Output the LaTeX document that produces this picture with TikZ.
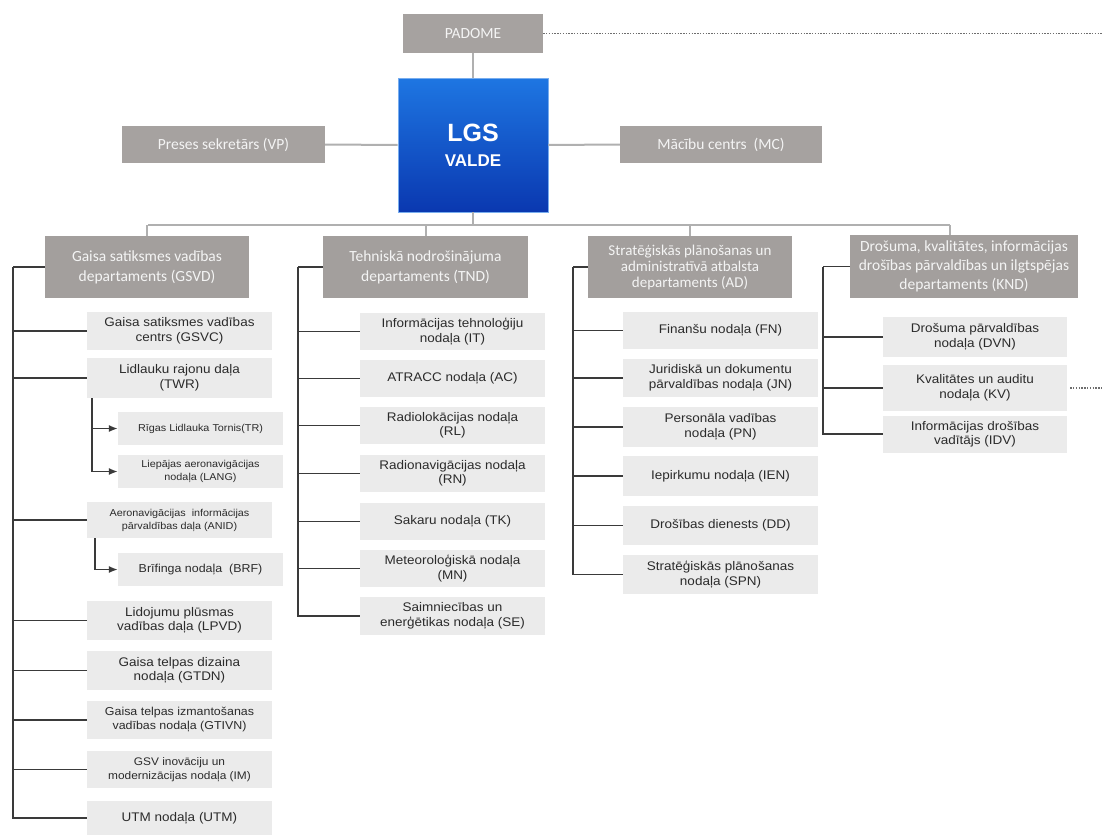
\documentclass[tikz,border=0pt]{standalone}
\usepackage{fontspec}
\setmainfont{Liberation Sans}
\newfontfamily\subf[FakeStretch=1.08]{Liberation Sans}
\newfontfamily\carl{Carlito}
\usetikzlibrary{arrows.meta}
\definecolor{topgray}{HTML}{A6A2A0}
\definecolor{deptgray}{HTML}{A39F9D}
\definecolor{subgray}{HTML}{EBEBEB}
\definecolor{treecol}{HTML}{3A3A3A}
\definecolor{busgray}{HTML}{B0B0B0}
\definecolor{dotcol}{HTML}{6E6E6E}
\definecolor{subtext}{HTML}{2B2B2B}
\definecolor{toptext}{HTML}{F4F4F4}
\definecolor{bluetop}{RGB}{30,118,226}
\definecolor{bluebot}{RGB}{10,56,176}
\tikzset{
  topbox/.style={fill=topgray, text=toptext, inner sep=0pt, align=center,
    font=\carl\fontsize{15.5}{18}\selectfont},
  deptbox/.style={fill=deptgray, text=toptext, inner sep=0pt, align=center,
    font=\carl\fontsize{15.5}{20}\selectfont},
  subbox/.style={fill=subgray, text=subtext, inner sep=0pt, align=center,
    font=\subf\fontsize{12.5}{14.5}\selectfont},
  smallsub/.style={subbox, font=\subf\fontsize{10}{13}\selectfont},
  tree/.style={draw=treecol, line width=1.4pt},
  treearrow/.style={tree, -{Latex[length=9pt,width=7pt]}},
  busline/.style={draw=busgray, line width=2pt},
  dotline/.style={draw=dotcol, line width=1.4pt, dash pattern=on 1.4pt off 1.4pt}
}
\begin{document}
\begin{tikzpicture}[x=1pt,y=-1pt]
\fill[white] (0,0) rectangle (1103,835);
\useasboundingbox (0,0) rectangle (1103,835);

% top level
\node[topbox, minimum width=140, minimum height=39] (padome) at (473,33.5) {PADOME};
\node[top color=bluetop, bottom color=bluebot, draw=bluetop!60!white, line width=0.8pt,
  minimum width=150, minimum height=134, inner sep=0pt,
  text=white, align=center, font=\bfseries\fontsize{17}{25}\selectfont] (valde) at (473,145)
  {{\fontsize{25}{25}\selectfont LGS}\\VALDE};
\node[topbox, minimum width=203, minimum height=37] (vp) at (223.5,144.5) {Preses sekretārs (VP)};
\node[topbox, minimum width=202, minimum height=37] (mc) at (721,144.5) {Mācību centrs \ (MC)};

\coordinate (dotend) at (1103,33.5);
\draw[dotline] (padome.east) -- (dotend);
\draw[busline] (padome.south) -- (valde.north);
\draw[busline] (vp.east) -- (valde.west);
\draw[busline] (valde.east) -- (mc.west);

% departments
\node[deptbox, minimum width=204, minimum height=62] (gsvd) at (147,267) {Gaisa satiksmes vadības\\departaments (GSVD)};
\node[deptbox, minimum width=205, minimum height=62] (tnd) at (425.5,267) {Tehniskā nodrošinājuma\\departaments (TND)};
\node[deptbox, minimum width=204, minimum height=62, font=\carl\fontsize{15}{16}\selectfont] (ad) at (690,267)
  {Stratēģiskās plānošanas un\\administratīvā atbalsta\\departaments (AD)};
\node[deptbox, minimum width=228, minimum height=63, font=\carl\fontsize{15.5}{19}\selectfont] (knd) at (964,266.5)
  {Drošuma, kvalitātes, informācijas\\drošības pārvaldības un ilgtspējas\\departaments (KND)};

% bus
\coordinate (busL) at (148,225);
\coordinate (busR) at (950,225);
\coordinate (kndtop) at (950,235);
\draw[busline] (valde.south) -- (valde.south |- busL);
\draw[busline] (busL) -- (busR);
\draw[busline] (gsvd.north) -- (gsvd.north |- busL);
\draw[busline] (tnd.north) -- (tnd.north |- busL);
\draw[busline] (ad.north) -- (ad.north |- busL);
\draw[busline] (kndtop) -- (busR);

% column 1
\node[subbox, minimum width=185, minimum height=38] (gsvc) at (179.5,331) {Gaisa satiksmes vadības\\centrs (GSVC)};
\node[subbox, minimum width=185, minimum height=40] (twr) at (179.5,378) {Lidlauku rajonu daļa\\(TWR)};
\node[smallsub, minimum width=165, minimum height=33] (tr) at (200.5,428.5) {Rīgas Lidlauka Tornis(TR)};
\node[smallsub, minimum width=165, minimum height=33] (lang) at (200.5,471.5) {Liepājas aeronavigācijas\\nodaļa (LANG)};
\node[smallsub, minimum width=185, minimum height=36] (anid) at (179.5,520) {Aeronavigācijas \ informācijas\\pārvaldības daļa (ANID)};
\node[subbox, minimum width=165, minimum height=33, font=\subf\fontsize{11.5}{13}\selectfont] (brf) at (200.5,569.5) {Brīfinga nodaļa \ (BRF)};
\node[subbox, minimum width=185, minimum height=39] (lpvd) at (179.5,620.5) {Lidojumu plūsmas\\vadības daļa (LPVD)};
\node[subbox, minimum width=185, minimum height=39] (gtdn) at (179.5,670.5) {Gaisa telpas dizaina\\nodaļa (GTDN)};
\node[subbox, minimum width=185, minimum height=38, font=\subf\fontsize{11.5}{14}\selectfont] (gtivn) at (179.5,720) {Gaisa telpas izmantošanas\\vadības nodaļa (GTIVN)};
\node[subbox, minimum width=185, minimum height=37, font=\subf\fontsize{11}{14}\selectfont] (im) at (179.5,769.5) {GSV inovāciju un\\modernizācijas nodaļa (IM)};
\node[subbox, minimum width=185, minimum height=34] (utm) at (179.5,818) {UTM nodaļa (UTM)};

\coordinate (trunkA) at (13,267);
\draw[tree] (gsvd.west) -- (trunkA);
\foreach \n in {gsvc,twr,anid,lpvd,gtdn,gtivn,im,utm} \draw[tree] (trunkA) |- (\n.west);
\coordinate (twrsub) at (92,398);
\draw[treearrow] (twrsub) |- (tr.west);
\draw[treearrow] (twrsub) |- (lang.west);
\coordinate (anidsub) at (95,538);
\draw[treearrow] (anidsub) |- (brf.west);

% column 2
\node[subbox, minimum width=185, minimum height=37] (it) at (452.5,331.5) {Informācijas tehnoloģiju\\nodaļa (IT)};
\node[subbox, minimum width=185, minimum height=37] (ac) at (452.5,378.5) {ATRACC nodaļa (AC)};
\node[subbox, minimum width=185, minimum height=37] (rl) at (452.5,425.5) {Radiolokācijas nodaļa\\(RL)};
\node[subbox, minimum width=185, minimum height=37] (rn) at (452.5,473.5) {Radionavigācijas nodaļa\\(RN)};
\node[subbox, minimum width=185, minimum height=37] (tk) at (452.5,521.5) {Sakaru nodaļa (TK)};
\node[subbox, minimum width=185, minimum height=37] (mn) at (452.5,568.5) {Meteoroloģiskā nodaļa\\(MN)};
\node[subbox, minimum width=185, minimum height=38] (se) at (452.5,616) {Saimniecības un\\enerģētikas nodaļa (SE)};

\coordinate (trunkB) at (298,267);
\draw[tree] (tnd.west) -- (trunkB);
\foreach \n in {it,ac,rl,rn,tk,mn,se} \draw[tree] (trunkB) |- (\n.west);

% column 3
\node[subbox, minimum width=195, minimum height=37] (fn) at (720.5,330.5) {Finanšu nodaļa (FN)};
\node[subbox, minimum width=195, minimum height=38] (jn) at (720.5,378) {Juridiskā un dokumentu\\pārvaldības nodaļa (JN)};
\node[subbox, minimum width=195, minimum height=40] (pn) at (720.5,427) {Personāla vadības\\nodaļa (PN)};
\node[subbox, minimum width=195, minimum height=40] (ien) at (720.5,476) {Iepirkumu nodaļa (IEN)};
\node[subbox, minimum width=195, minimum height=39] (dd) at (720.5,525.5) {Drošības dienests (DD)};
\node[subbox, minimum width=195, minimum height=39] (spn) at (720.5,574.5) {Stratēģiskās plānošanas\\nodaļa (SPN)};

\coordinate (trunkC) at (573,267);
\draw[tree] (ad.west) -- (trunkC);
\foreach \n in {fn,jn,pn,ien,dd,spn} \draw[tree] (trunkC) |- (\n.west);

% column 4
\node[subbox, minimum width=184, minimum height=40] (dvn) at (975,337) {Drošuma pārvaldības\\nodaļa (DVN)};
\node[subbox, minimum width=184, minimum height=46] (kv) at (975,388) {Kvalitātes un auditu\\nodaļa (KV)};
\node[subbox, minimum width=184, minimum height=37] (idv) at (975,434) {Informācijas drošības\\vadītājs (IDV)};

\coordinate (trunkD) at (823,266.5);
\draw[tree] (knd.west) -- (trunkD);
\foreach \n in {dvn,kv,idv} \draw[tree] (trunkD) |- (\n.west);
\coordinate (kvdot) at (1103,388);
\draw[dotline] ([xshift=3pt]kv.east) -- (kvdot);
\end{tikzpicture}
\end{document}
